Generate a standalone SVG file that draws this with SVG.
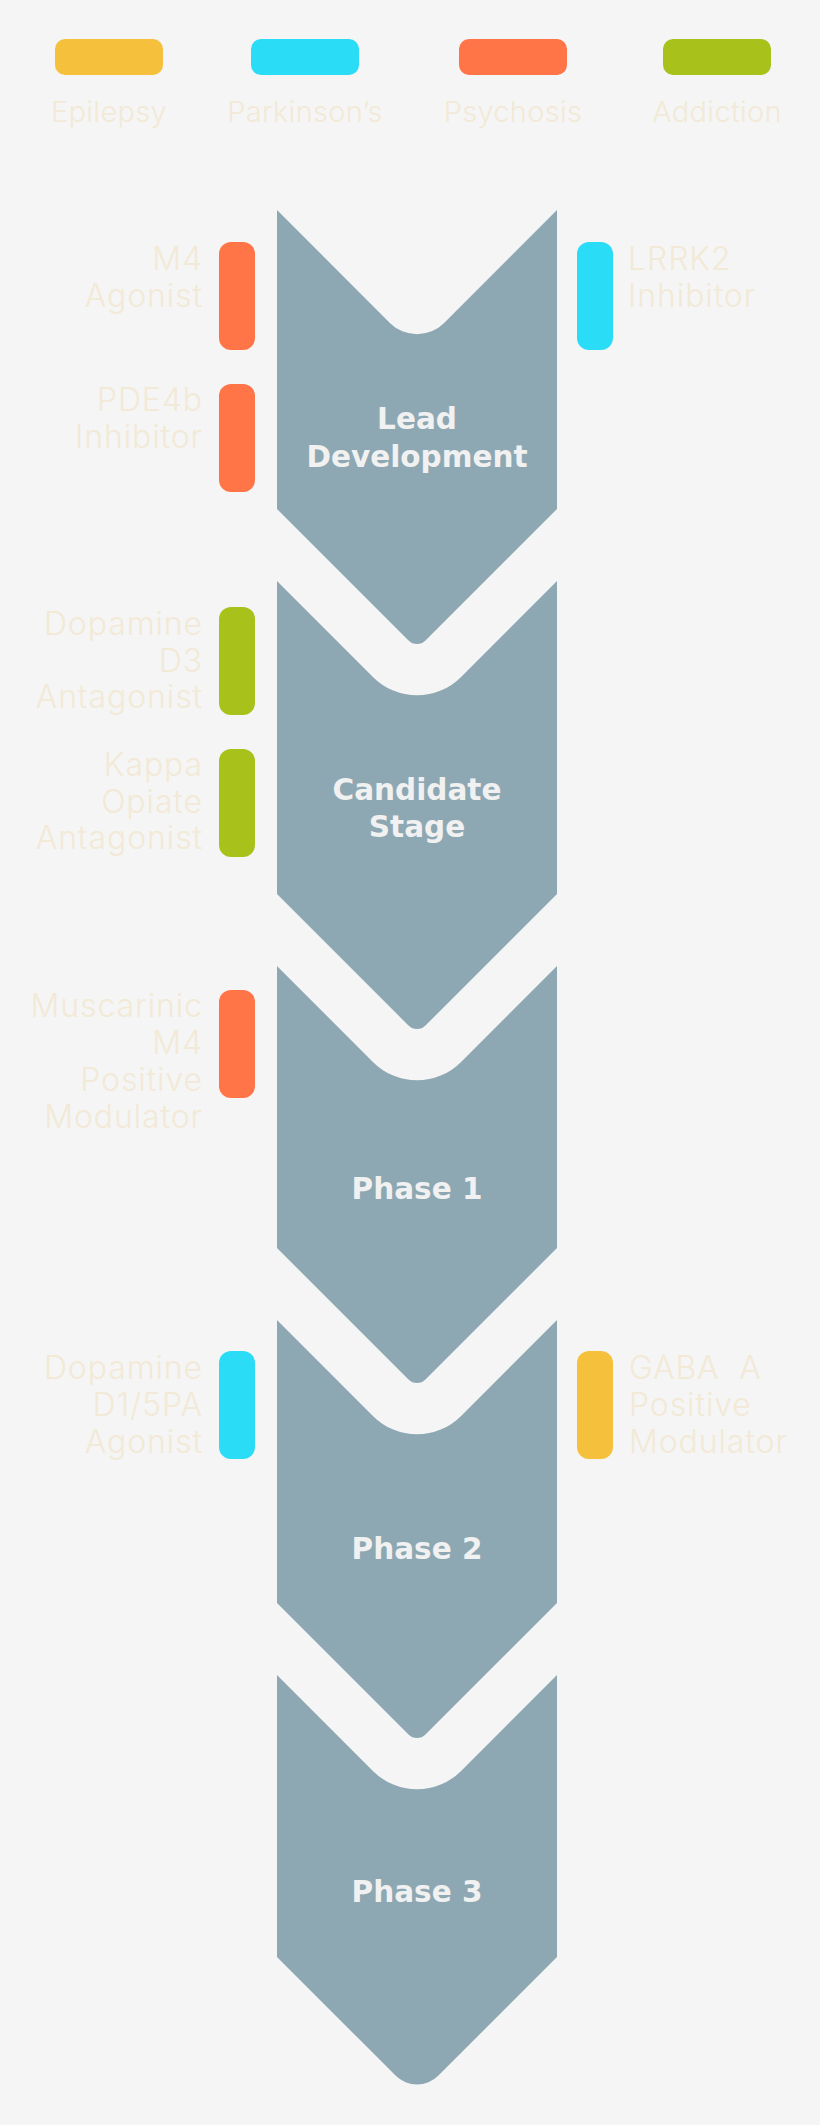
<svg xmlns="http://www.w3.org/2000/svg" width="820" height="2125" viewBox="0 0 820 2125">
<style>
.bg{fill:#f5f5f5}
.chev{fill:#8ea8b3}
.stage{font-family:"DejaVu Sans","Liberation Sans",sans-serif;font-weight:bold;font-size:29.5px;fill:#f1f1f1;text-anchor:middle}
.lbl{font-family:Inter,"Open Sans","Liberation Sans",sans-serif;font-weight:300;font-size:32px;letter-spacing:0.9px;fill:#f2e9d6}
.lgd{font-family:Inter,"Open Sans","Liberation Sans",sans-serif;font-weight:300;font-size:29px;letter-spacing:0.3px;fill:#f2e9d6;text-anchor:middle}
.l{text-anchor:end}
.r{text-anchor:start}
.yel{fill:#f5c13d}
.cyn{fill:#2bdcf6}
.org{fill:#ff7547}
.grn{fill:#a8c21b}
</style>
<rect class="bg" x="0" y="0" width="820" height="2125"/>

<g id="legend">
  <g id="legend-epilepsy"><rect class="yel" x="55" y="39" width="108" height="36" rx="10"/><text class="lgd" x="109" y="122">Epilepsy</text></g>
  <g id="legend-parkinsons"><rect class="cyn" x="251" y="39" width="108" height="36" rx="10"/><text class="lgd" x="305" y="122">Parkinson’s</text></g>
  <g id="legend-psychosis"><rect class="org" x="459" y="39" width="108" height="36" rx="10"/><text class="lgd" x="513" y="122">Psychosis</text></g>
  <g id="legend-addiction"><rect class="grn" x="663" y="39" width="108" height="36" rx="10"/><text class="lgd" x="717" y="122">Addiction</text></g>
</g>

<g id="connectors"/>

<g id="stage-lead">
  <path class="chev" d="M277,210 L390.13,323.13 A38,38 0 0 0 443.87,323.13 L557,210 L557,509 L425.49,640.51 A12,12 0 0 1 408.51,640.51 L277,509 Z"/>
  <text class="stage" x="417" y="429">Lead</text>
  <text class="stage" x="417" y="466.5">Development</text>
</g>
<g id="stage-candidate">
  <path class="chev" d="M277,581 L373.16,677.16 A62,62 0 0 0 460.84,677.16 L557,581 L557,894 L425.49,1025.51 A12,12 0 0 1 408.51,1025.51 L277,894 Z"/>
  <text class="stage" x="417" y="800">Candidate</text>
  <text class="stage" x="417" y="836.5">Stage</text>
</g>
<g id="stage-phase1">
  <path class="chev" d="M277,966 L373.16,1062.16 A62,62 0 0 0 460.84,1062.16 L557,966 L557,1248 L425.49,1379.51 A12,12 0 0 1 408.51,1379.51 L277,1248 Z"/>
  <text class="stage" x="417" y="1199">Phase 1</text>
</g>
<g id="stage-phase2">
  <path class="chev" d="M277,1320 L373.16,1416.16 A62,62 0 0 0 460.84,1416.16 L557,1320 L557,1603 L425.49,1734.51 A12,12 0 0 1 408.51,1734.51 L277,1603 Z"/>
  <text class="stage" x="417" y="1559">Phase 2</text>
</g>
<g id="stage-phase3">
  <path class="chev" d="M277,1675 L373.16,1771.16 A62,62 0 0 0 460.84,1771.16 L557,1675 L557,1957 L438.21,2075.79 A30,30 0 0 1 395.79,2075.79 L277,1957 Z"/>
  <text class="stage" x="417" y="1901.5">Phase 3</text>
</g>

<g id="drug-m4-agonist">
  <rect class="org" x="219" y="242" width="36" height="108" rx="12"/>
  <text class="lbl l" x="203" y="270">M4</text>
  <text class="lbl l" x="203" y="306.7">Agonist</text>
</g>
<g id="drug-pde4b-inhibitor">
  <rect class="org" x="219" y="384" width="36" height="108" rx="12"/>
  <text class="lbl l" x="203" y="411">PDE4b</text>
  <text class="lbl l" x="203" y="447.5">Inhibitor</text>
</g>
<g id="drug-lrrk2-inhibitor">
  <rect class="cyn" x="577" y="242" width="36" height="108" rx="12"/>
  <text class="lbl r" x="628" y="270">LRRK2</text>
  <text class="lbl r" x="628" y="306.7">Inhibitor</text>
</g>
<g id="drug-dopamine-d3">
  <rect class="grn" x="219" y="607" width="36" height="108" rx="12"/>
  <text class="lbl l" x="203" y="635">Dopamine</text>
  <text class="lbl l" x="203" y="671.5">D3</text>
  <text class="lbl l" x="203" y="708">Antagonist</text>
</g>
<g id="drug-kappa-opiate">
  <rect class="grn" x="219" y="749" width="36" height="108" rx="12"/>
  <text class="lbl l" x="203" y="776">Kappa</text>
  <text class="lbl l" x="203" y="812.7">Opiate</text>
  <text class="lbl l" x="203" y="849.3">Antagonist</text>
</g>
<g id="drug-muscarinic-m4">
  <rect class="org" x="219" y="990" width="36" height="108" rx="12"/>
  <text class="lbl l" x="203" y="1016.7">Muscarinic</text>
  <text class="lbl l" x="203" y="1053.7">M4</text>
  <text class="lbl l" x="203" y="1090.5">Positive</text>
  <text class="lbl l" x="203" y="1127.8">Modulator</text>
</g>
<g id="drug-dopamine-d1">
  <rect class="cyn" x="219" y="1351" width="36" height="108" rx="12"/>
  <text class="lbl l" x="203" y="1378.5">Dopamine</text>
  <text class="lbl l" x="203" y="1416">D1/5PA</text>
  <text class="lbl l" x="203" y="1452.7">Agonist</text>
</g>
<g id="drug-gaba-a">
  <rect class="yel" x="577" y="1351" width="36" height="108" rx="12"/>
  <text class="lbl r" x="629" y="1379" xml:space="preserve">GABA  A</text>
  <text class="lbl r" x="629" y="1416">Positive</text>
  <text class="lbl r" x="629" y="1453">Modulator</text>
</g>
</svg>
